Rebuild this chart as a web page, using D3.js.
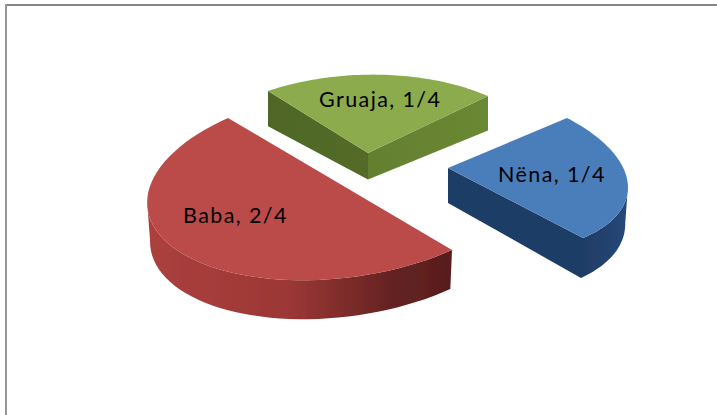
<!DOCTYPE html>
<html>
<head>
<meta charset="utf-8">
<script src="https://cdn.jsdelivr.net/npm/d3@7"></script>
<style>
  html, body { margin: 0; padding: 0; background: #fff; }
  svg { display: block; }
</style>
</head>
<body>
<svg id="chart" width="717" height="415"></svg>
<script>
var categories = ["Baba", "Gruaja", "Nëna"];
var values = [2, 1, 1];
var total = 4;

// hand fitted projection of each exploded slice: apex, the two edge vectors, rim flattening
var frames = [
  { apex: [340, 184], a: [112, 66], c: [-157, 70], depth: 39, sx: 0.985, sy: 1, flat: 0,
    top: "#bb4b49", walls: [[150, "#ab403e"], [290, "#9b3735"], [390, "#652322"], [455, "#571d1d"]],
    label: [183, 223] },
  { apex: [368, 153], a: [-100, -62], b: [120, -57], depth: 26.5, sx: 1, sy: 0.86, flat: 0.22,
    top: "#8cab4d", walls: [[268, "#4f6627"], [368, "#536b29"], [368.5, "#647f2f"], [488, "#6a8834"]],
    label: [319, 107] },
  { apex: [448, 168], a: [119, -50], b: [135, 70], depth: 35, sx: 0.985, sy: 1.07, flat: 0,
    top: "#4a7ebb", walls: [[448, "#1f3c66"], [583, "#1f3c66"], [628, "#264878"]],
    label: [498, 182] }
];

var svg = d3.select("#chart");
var defs = svg.append("defs");

defs.append("filter")
  .attr("id", "soft")
  .append("feGaussianBlur")
  .attr("stdDeviation", 0.7);

// only the top and left edges of the frame are in the picture
svg.append("line")
  .attr("x1", 5).attr("x2", 717).attr("y1", 5).attr("y2", 5)
  .attr("stroke", "#868686").attr("stroke-width", 2);
svg.append("line")
  .attr("x1", 6).attr("x2", 6).attr("y1", 4).attr("y2", 415)
  .attr("stroke", "#969696").attr("stroke-width", 2);

var pie = d3.pie().sort(null).startAngle(0).endAngle(2 * Math.PI);
var arcs = pie(values);

// point on the rim of a slice, phi runs from 0 at one edge to the sweep at the other
function rimPoint(f, phi) {
  var cos = Math.cos(phi), sin = Math.sin(phi);
  if (f.c) {
    return [f.apex[0] + f.a[0] * cos + f.c[0] * sin, f.apex[1] + f.a[1] * cos + f.c[1] * sin];
  }
  var k = (1 + f.flat) / (1 + f.flat * cos + f.flat * sin);
  return [f.apex[0] + k * (f.a[0] * cos + f.b[0] * sin), f.apex[1] + k * (f.a[1] * cos + f.b[1] * sin)];
}

function outline(d, f) {
  var sweep = d.endAngle - d.startAngle;
  var pts = d3.range(0, 61).map(function (i) {
    return rimPoint(f, sweep * i / 60);
  });
  if (!f.c) { pts.unshift(f.apex); pts.push(f.apex); }
  else { pts.push(pts[0]); }
  return pts;
}

function bottomPoint(f, p) {
  return [
    f.apex[0] + (p[0] - f.apex[0]) * f.sx,
    f.apex[1] + f.depth + (p[1] - f.apex[1]) * f.sy
  ];
}

var line = d3.line();
var order = [1, 0, 2];

var slices = svg.append("g").attr("filter", "url(#soft)");

order.forEach(function (idx) {
  var f = frames[idx];
  var pts = outline(arcs[idx], f);
  var g = slices.append("g").attr("class", "slice");

  var x0 = f.walls[0][0], x1 = f.walls[f.walls.length - 1][0];
  var gradId = "wall" + idx;
  var stopPos = d3.scaleLinear().domain([x0, x1]).range([0, 1]);
  defs.append("linearGradient")
    .attr("id", gradId)
    .attr("gradientUnits", "userSpaceOnUse")
    .attr("x1", x0).attr("x2", x1).attr("y1", 0).attr("y2", 0)
    .selectAll("stop")
    .data(f.walls)
    .enter().append("stop")
    .attr("offset", function (w) { return stopPos(w[0]); })
    .attr("stop-color", function (w) { return w[1]; });

  // walls: only the edges that run leftwards on screen face the viewer
  var runs = [], run = null;
  d3.pairs(pts).forEach(function (p) {
    if (p[1][0] < p[0][0]) {
      if (!run) { run = [p[0]]; runs.push(run); }
      run.push(p[1]);
    } else {
      run = null;
    }
  });
  runs.forEach(function (r) {
    var lower = r.map(function (p) { return bottomPoint(f, p); }).reverse();
    g.append("path")
      .attr("d", line(r.concat(lower)) + "Z")
      .attr("fill", "url(#" + gradId + ")");
  });

  g.append("path")
    .attr("d", line(pts) + "Z")
    .attr("fill", f.top);
});

svg.selectAll("text.label")
  .data(categories)
  .enter().append("text")
  .attr("class", "label")
  .attr("x", function (d, i) { return frames[i].label[0]; })
  .attr("y", function (d, i) { return frames[i].label[1]; })
  .attr("font-family", "Lato, sans-serif")
  .attr("font-size", 21.5)
  .attr("letter-spacing", 1.4)
  .attr("fill", "#000")
  .text(function (d, i) { return d + ", " + values[i] + "/" + total; });
</script>
</body>
</html>
